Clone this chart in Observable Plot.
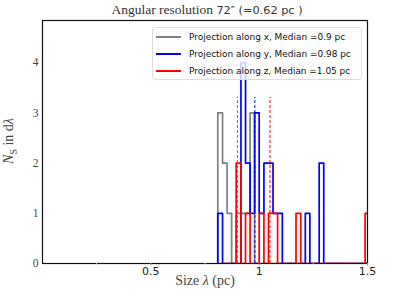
<!DOCTYPE html>
<html><head><meta charset="utf-8">
<script src="https://cdn.jsdelivr.net/npm/d3@7"></script>
<script src="https://cdn.jsdelivr.net/npm/@observablehq/plot@0.6"></script>
<style>
body{margin:0;background:#fff;}
#wrap{position:relative;width:407px;height:297px;overflow:hidden;}
#wrap svg{position:absolute;left:0;top:0;}
.title{position:absolute;top:2px;left:0;width:414px;text-align:center;font-size:13.5px;color:#333;white-space:nowrap;}
.serif{font-family:"Liberation Serif",serif;}
.sans{font-family:"DejaVu Sans",sans-serif;font-size:11.3px;}
.xlabel{position:absolute;top:273px;left:0;width:410px;text-align:center;font:14px "Liberation Serif",serif;color:#444;}
.ylabel{position:absolute;left:10px;top:141px;transform:translate(-50%,-50%) rotate(-90deg);transform-origin:center;font:14px "Liberation Serif",serif;color:#444;white-space:nowrap;}
.legend{position:absolute;left:152px;top:27px;width:210px;height:53px;background:rgba(255,255,255,0.8);border:1px solid #ddd;border-radius:3px;box-sizing:border-box;}
.legend .row{position:absolute;left:3px;height:14px;font:8.95px "DejaVu Sans",sans-serif;color:#111;white-space:nowrap;display:flex;align-items:center;}
.legend .sw{display:inline-block;width:25px;height:0;border-top:2px solid;margin-right:8px;}
</style>
</head><body>
<div id="wrap"></div>
<script>
// common bin edges (pc)
const binEdges = [0.809,0.831,0.852,0.873,0.894,0.916,0.937,0.958,0.979,1.000,1.022,1.043,1.064,1.085,1.107,1.128,1.149,1.170,1.192,1.213,1.234,1.255,1.277,1.298,1.319,1.340,1.361,1.383,1.404,1.425,1.446,1.468,1.489,1.510];
// counts per bin for each projection
const countsX = [3,2,1,0,1,1,1,3,0,0,0,0,0,0,0,0,0,0,0,0,0,0,0,0,0,0,0,0,0,0,0,0,0];
const countsY = [1,0,0,0,0,4,2,1,3,1,2,2,1,1,0,0,0,0,0,1,0,0,2,0,0,0,0,0,0,0,0,0,0];
const countsZ = [0,0,0,0,2,0,1,0,0,1,0,1,1,0,0,0,0,1,0,0,0,0,0,0,0,0,0,0,0,0,0,0,1];
const seriesNames = ["x","y","z"];
const seriesColors = ["gray","blue","red"];
const medians = [0.9, 0.98, 1.05];
const medianTop = 3.31;
const xTicks = [0.5, 1, 1.5];
const xMinorTicks = [0.25, 0.75, 1.25];
const yTicks = [0, 1, 2, 3, 4];
const xDomain = [0, 1.5];
const yDomain = [0, 4.84];

function stepPoints(counts, name) {
  const pts = [{x: binEdges[0], y: 0, s: name}];
  counts.forEach((c, i) => {
    pts.push({x: binEdges[i], y: c, s: name});
    pts.push({x: binEdges[i + 1], y: c, s: name});
  });
  pts.push({x: binEdges[binEdges.length - 1], y: 0, s: name});
  return pts;
}
const allCounts = [countsX, countsY, countsZ];
const medianData = medians.map((m, i) => ({x: m, s: seriesNames[i], c: seriesColors[i]}));

const histMarks = allCounts.map((c, i) =>
  Plot.line(stepPoints(c, seriesNames[i]), {x: "x", y: "y", stroke: seriesColors[i], strokeWidth: 1.7, clip: true, curve: "linear"})
);

const plot = Plot.plot({
  width: 407, height: 297,
  marginLeft: 42, marginRight: 40, marginTop: 20, marginBottom: 34,
  x: {domain: xDomain},
  y: {domain: yDomain},
  style: {background: "transparent"},
  marks: [
    ...histMarks,
    Plot.ruleX(medianData, {x: "x", y1: 0, y2: medianTop, stroke: "c", strokeWidth: 1, strokeDasharray: "3,2"}),
    Plot.frame({stroke: "#111", strokeWidth: 1.2}),
    Plot.axisX(xTicks, {tickSize: 2.5, tickPadding: 1.5, stroke: "#999", fill: "#222", fontSize: 11, fontFamily: "DejaVu Sans", label: null, tickFormat: d => String(d)}),
    Plot.axisX(xMinorTicks, {tickSize: 1.5, stroke: "#bbb", tickFormat: () => "", label: null}),
    Plot.axisY(yTicks, {tickSize: 0, tickPadding: 4, fill: "#444", fontSize: 11.5, fontFamily: "Liberation Serif", label: null, tickFormat: d => String(d)})
  ]
});

const wrap = document.getElementById("wrap");
wrap.appendChild(plot);

const t = document.createElement("div");
t.className = "title";
t.innerHTML = '<span class="serif">Angular resolution</span> <span class="sans">72″ (=0.62 pc )</span>';
wrap.appendChild(t);

const xl = document.createElement("div");
xl.className = "xlabel";
xl.innerHTML = 'Size <i>λ</i> (pc)';
wrap.appendChild(xl);

const yl = document.createElement("div");
yl.className = "ylabel";
yl.innerHTML = '<i>N</i><sub style="font-size:10px">S</sub> in d<i>λ</i>';
wrap.appendChild(yl);

const lg = document.createElement("div");
lg.className = "legend";
const rowsTop = [1.5, 18.5, 35.5];
seriesNames.forEach((n, i) => {
  const r = document.createElement("div");
  r.className = "row";
  r.style.top = rowsTop[i] + "px";
  r.innerHTML = `<span class="sw" style="border-color:${seriesColors[i]}"></span>Projection along ${n}, Median =${medians[i]} pc`;
  lg.appendChild(r);
});
wrap.appendChild(lg);
</script>
</body></html>
